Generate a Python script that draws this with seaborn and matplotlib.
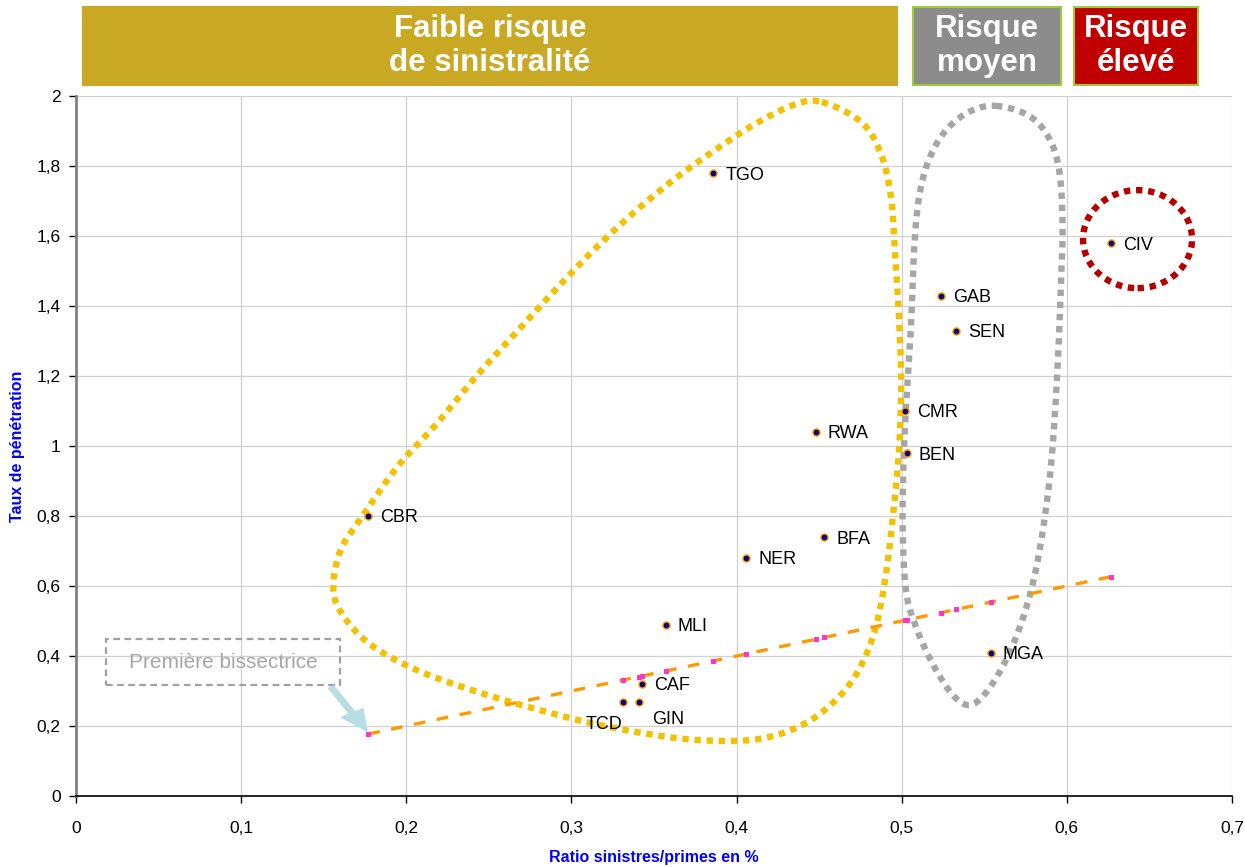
import numpy as np
import pandas as pd
import matplotlib
matplotlib.use("Agg")
import matplotlib.pyplot as plt
import matplotlib.ticker as mticker
from matplotlib.patches import Rectangle, Ellipse, FancyArrow
import seaborn as sns

# Country codes and their values
countries = ["TGO", "CIV", "GAB", "SEN", "CMR", "RWA", "BEN", "CBR",
             "BFA", "NER", "MLI", "MGA", "CAF", "GIN", "TCD"]
ratio_sp = [0.386, 0.627, 0.524, 0.533, 0.502, 0.448, 0.503, 0.177,
            0.453, 0.406, 0.357, 0.554, 0.343, 0.341, 0.331]
penetration = [1.78, 1.58, 1.43, 1.33, 1.10, 1.04, 0.98, 0.80,
               0.74, 0.68, 0.49, 0.41, 0.32, 0.27, 0.27]

x_ticks = [0, 0.1, 0.2, 0.3, 0.4, 0.5, 0.6, 0.7]
y_ticks = [0, 0.2, 0.4, 0.6, 0.8, 1.0, 1.2, 1.4, 1.6, 1.8, 2.0]

# Hand-drawn outlines around the risk groups
low_risk_outline = [
    (0.4516, 1.983), (0.4756, 1.925), (0.4876, 1.832), (0.4936, 1.708),
    (0.4960, 1.548), (0.4984, 1.362), (0.4996, 1.176), (0.4984, 0.991),
    (0.4948, 0.805), (0.4900, 0.619), (0.4828, 0.458), (0.4708, 0.335),
    (0.4540, 0.248), (0.4348, 0.192), (0.4108, 0.161), (0.3796, 0.159),
    (0.3508, 0.174), (0.3148, 0.205), (0.2788, 0.248), (0.2427, 0.298),
    (0.2067, 0.359), (0.1779, 0.434), (0.1611, 0.520), (0.1558, 0.595),
    (0.1600, 0.700), (0.1720, 0.790), (0.1947, 0.941), (0.2187, 1.065),
    (0.2427, 1.201), (0.2667, 1.325), (0.2908, 1.449), (0.3148, 1.566),
    (0.3388, 1.671), (0.3628, 1.764), (0.3868, 1.845), (0.4108, 1.919),
    (0.4348, 1.975),
]
medium_risk_outline = [
    (0.5571, 1.972), (0.5772, 1.943), (0.5893, 1.879), (0.5954, 1.786),
    (0.5974, 1.635), (0.5964, 1.460), (0.5944, 1.227), (0.5913, 0.994),
    (0.5873, 0.819), (0.5812, 0.645), (0.5732, 0.505), (0.5631, 0.388),
    (0.5510, 0.295), (0.5409, 0.260), (0.5308, 0.289), (0.5188, 0.377),
    (0.5087, 0.482), (0.5026, 0.586), (0.5006, 0.761), (0.5010, 0.936),
    (0.5026, 1.110), (0.5056, 1.343), (0.5077, 1.576), (0.5107, 1.716),
    (0.5167, 1.821), (0.5268, 1.902), (0.5409, 1.955),
]


def closed_spline(points, n_per_seg=20):
    """Closed Catmull-Rom spline through the given points."""
    p = np.asarray(points, dtype=float)
    n = len(p)
    out = []
    t = np.linspace(0, 1, n_per_seg, endpoint=False)[:, None]
    for i in range(n):
        p0, p1, p2, p3 = p[(i - 1) % n], p[i], p[(i + 1) % n], p[(i + 2) % n]
        seg = 0.5 * ((2 * p1) + (-p0 + p2) * t
                     + (2 * p0 - 5 * p1 + 4 * p2 - p3) * t ** 2
                     + (-p0 + 3 * p1 - 3 * p2 + p3) * t ** 3)
        out.append(seg)
    out.append(p[:1])
    return np.vstack(out)


df = pd.DataFrame({"pays": countries, "ratio": ratio_sp, "taux": penetration})
bis = pd.DataFrame({"x": sorted(ratio_sp)})
bis["y"] = bis["x"]

sns.set_theme(style="whitegrid")
plt.rcParams["font.family"] = ["Liberation Sans", "DejaVu Sans"]

fig = plt.figure(figsize=(12.45, 8.67), dpi=100)
ax = fig.add_axes([76 / 1245, 1 - 796 / 867, (1232 - 76) / 1245, (796 - 96) / 867])
ax.set_facecolor("white")

# Low-risk and medium-risk outlines
for pts, col in [(low_risk_outline, "#F2C200"), (medium_risk_outline, "#A6A6A6")]:
    c = closed_spline(pts)
    ax.plot(c[:, 0], c[:, 1], color=col, lw=4.6, linestyle=(0, (1.0, 0.9)),
            solid_capstyle="butt", dash_capstyle="butt", zorder=2)

# High-risk circle
ax.add_patch(Ellipse((0.6428, 1.591), 0.066, 0.28, fill=False, edgecolor="#B50000",
                     lw=4.6, linestyle=(0, (1.0, 0.9)), zorder=2))

# First bisector y = x through the observed ratios
sns.lineplot(data=bis, x="x", y="y", ax=ax, color="#FF9900", lw=2.4,
             linestyle=(0, (3.5, 3.5)), marker="s", markersize=2.5,
             markerfacecolor="#FF33CC", markeredgecolor="#FF33CC", zorder=3,
             sort=True, estimator=None)

# Country points
sns.scatterplot(data=df, x="ratio", y="taux", ax=ax, s=26, color="#000080",
                edgecolor="#FF9900", linewidth=1.0, zorder=5, legend=False)

offsets = {"TCD": (-37, -23), "GIN": (13, -18), "CAF": (12, -2)}
for name, xv, yv in zip(countries, ratio_sp, penetration):
    dx, dy = offsets.get(name, (12, -2))
    ax.annotate(name, (xv, yv), xytext=(dx, dy), textcoords="offset pixels",
                fontsize=13, color="black", va="center", ha="left", zorder=6)

ax.set_xlim(0, 0.7)
ax.set_ylim(0, 2)
ax.set_xticks(x_ticks)
ax.set_yticks(y_ticks)
fmt = mticker.FuncFormatter(lambda v, _: f"{v:g}".replace(".", ","))
ax.xaxis.set_major_formatter(fmt)
ax.yaxis.set_major_formatter(fmt)
ax.tick_params(axis="both", labelsize=12.5, colors="black", length=5,
               direction="out", left=True, bottom=True, width=1)
ax.tick_params(axis="x", pad=13)
ax.tick_params(axis="y", pad=6)
ax.grid(True, color="#D0D0D0", lw=0.9)
for s in ["top", "right"]:
    ax.spines[s].set_visible(False)
ax.spines["left"].set_color("#808080")
ax.spines["left"].set_linewidth(2)
ax.spines["bottom"].set_color("black")
ax.spines["bottom"].set_linewidth(1.2)

ax.set_xlabel("Ratio sinistres/primes en %", color="#0000FF", fontweight="bold",
              fontsize=11.5, labelpad=10)
ax.set_ylabel("Taux de pénétration", color="#0000FF", fontweight="bold",
              fontsize=11.5)
ax.yaxis.set_label_coords(-0.044, 0.5)

# "Première bissectrice" callout
ax.add_patch(Rectangle((0.018, 0.318), 0.142, 0.131, fill=False, edgecolor="#A0A0A0",
                       lw=1.6, linestyle=(0, (3, 2)), zorder=6))
ax.text(0.089, 0.381, "Première bissectrice", fontsize=15, color="#A6A6A6",
        ha="center", va="center", zorder=7)
fig.patches.append(FancyArrow(331 / 1245, 1 - 687 / 867, 36 / 1245, -44 / 867,
                              width=0.005, head_width=0.02, head_length=0.024,
                              length_includes_head=True, color="#B7DEE2",
                              transform=fig.transFigure, zorder=8))


# Risk headers above the plot
def header(x0, x1, y0, y1, face, edge, lines):
    fig.patches.append(Rectangle((x0 / 1245, 1 - y1 / 867), (x1 - x0) / 1245,
                                 (y1 - y0) / 867, transform=fig.transFigure,
                                 facecolor=face, edgecolor=edge, lw=1.5))
    fig.text((x0 + x1) / 2 / 1245, 1 - (y0 + y1) / 2 / 867, lines, color="white",
             fontsize=22.5, fontweight="bold", ha="center", va="center",
             linespacing=1.2)


header(83, 897, 7, 85, "#C9A823", "#C9A823", "Faible risque\nde sinistralité")
header(913, 1061, 7, 85, "#8C8C8C", "#9CCB3C", "Risque\nmoyen")
header(1074, 1198, 7, 85, "#C00000", "#9CCB3C", "Risque\nélevé")

fig.savefig("out.png", dpi=100, facecolor="white")
